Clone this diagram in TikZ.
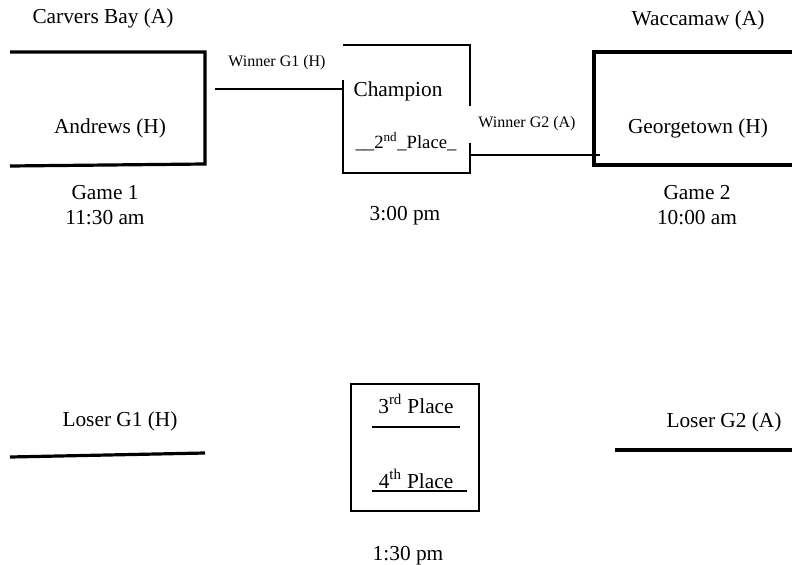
\documentclass[tikz,border=0pt]{standalone}
\usepackage{fontspec}
\setmainfont{Liberation Serif}
\usetikzlibrary{positioning}

\begin{document}
\begin{tikzpicture}[x=0.75pt, y=-0.75pt, font=\fontsize{16}{18.75}\selectfont,
    team/.style={align=center, inner sep=0pt},
    small/.style={font=\fontsize{12}{14}\selectfont, inner sep=0pt},
    bracket/.style={line width=2.4pt},
    thin/.style={line width=0.8pt}]
    \useasboundingbox (0,0) rectangle (792,564);

    % game 1
    \node [team] (carvers) at (103,18) {Carvers Bay (A)};
    \node [team] (andrews) at (110,128) {Andrews (H)};
    \node [team] (game1) at (105,205) {Game 1\\11:30 am};
    \draw [bracket] (10,52) -- (205,52) -- (205,164) -- (10,166);

    % game 2
    \node [team] (waccamaw) at (698,20) {Waccamaw (A)};
    \node [team] (georgetown) at (698,128) {Georgetown (H)};
    \node [team] (game2) at (697,205) {Game 2\\10:00 am};
    \draw [bracket] (792,52) -- (594,52) -- (594,165) -- (792,165);

    % championship
    \coordinate (champ nw) at (343,45);
    \coordinate (champ se) at (470,173);
    \node [team] (champion) at (398,91) {Champion};
    \node [team, font=\fontsize{14}{16}\selectfont] (second) at (406,142) {\_\_2\textsuperscript{nd}\_Place\_};
    \node [team] (champ time) at (405,216) {3:00 pm};
    \draw [thin] (champ nw |- 0,80) |- (champ se) -- (champ se |- 0,143);
    \draw [thin] (champ nw) -| (champ se |- 0,106);

    \coordinate (w1) at (215,89);
    \coordinate (w2) at (600,155);
    \draw [thin] (w1) -- (w1 -| champ nw);
    \draw [thin] (w2) -- (w2 -| champ se);
    \node [small] (w1 label) at (277,63) {Winner G1 (H)};
    \node [small] (w2 label) at (527,124) {Winner G2 (A)};

    % consolation
    \node [team] (loser1) at (120,421) {Loser G1 (H)};
    \node [team] (loser2) at (724,422) {Loser G2 (A)};
    \draw [bracket] (10,457) -- (205,453);
    \draw [bracket] (615,450) -- (792,450);

    \draw [thin] (351,384) rectangle (479,511);
    \node [team] (third) at (416,404) {3\textsuperscript{rd} Place};
    \node [team] (fourth) at (416,479) {4\textsuperscript{th} Place};
    \draw [thin] (372,427) -- (460,427);
    \draw [thin] (372,491) -- (467,491);
    \node [team] (conso time) at (408,556) {1:30 pm};
\end{tikzpicture}
\end{document}
